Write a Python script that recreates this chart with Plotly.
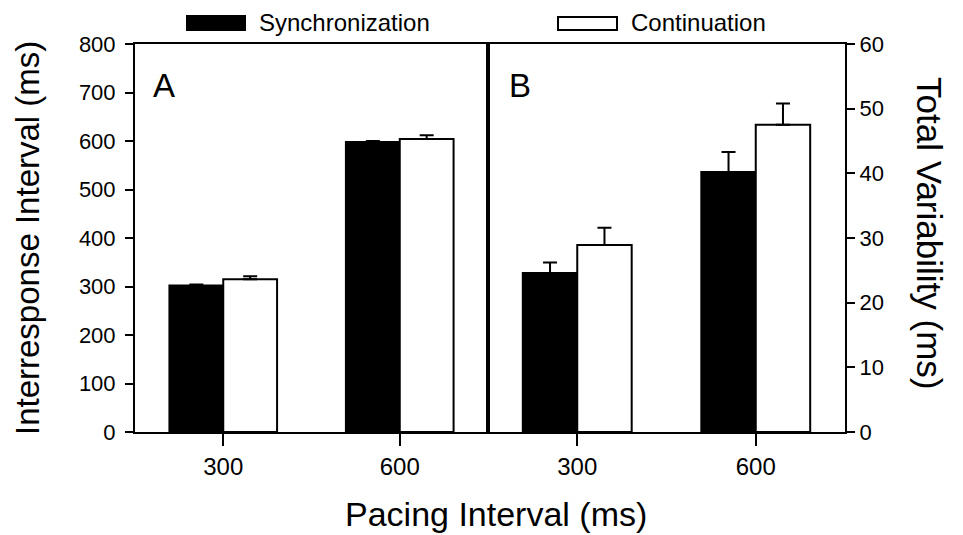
import plotly.graph_objects as go

# ---- data ----
categories = ["300", "600"]
# Panel A: interresponse interval (ms)
ira_sync = [302, 598]
ira_sync_err = [2, 2]
ira_cont = [315, 604]
ira_cont_err = [6, 8]
# Panel B: total variability (ms)
tv_sync = [24.6, 40.2]
tv_sync_err = [1.6, 3.1]
tv_cont = [28.9, 47.5]
tv_cont_err = [2.7, 3.3]
left_ticks = list(range(0, 801, 100))
right_ticks = list(range(0, 61, 10))

FONT = "Liberation Sans, Arial, Helvetica, sans-serif"

fig = go.Figure()

def add_bars(vals, errs, fill, xa, ya, name):
    fig.add_trace(go.Bar(
        x=categories, y=vals, name=name, xaxis=xa, yaxis=ya,
        marker=dict(color=fill, line=dict(color="black", width=2)),
        error_y=dict(type="data", symmetric=False, array=errs,
                     arrayminus=[0] * len(errs), color="black",
                     thickness=2, width=7),
        showlegend=False,
    ))

add_bars(ira_sync, ira_sync_err, "black", "x", "y", "Synchronization")
add_bars(ira_cont, ira_cont_err, "white", "x", "y", "Continuation")
add_bars(tv_sync, tv_sync_err, "black", "x2", "y2", "Synchronization")
add_bars(tv_cont, tv_cont_err, "white", "x2", "y2", "Continuation")

# page coordinates (browser body has an 8px margin)
OFF = 8
PW, PH = 963, 535
L, R, T, B = 135, 845, 44, 432
W, H = PW - OFF, PH - OFF
d = (488 - L) / (R - L)

axis_common = dict(showline=True, linecolor="black", linewidth=2, mirror=True,
                   showgrid=False, zeroline=False, ticks="outside",
                   tickcolor="black", tickwidth=2)

fig.update_layout(
    width=W, height=H,
    margin=dict(l=L - OFF, r=PW - R, t=T - OFF, b=PH - B),
    paper_bgcolor="white", plot_bgcolor="white",
    font=dict(family=FONT, color="black"),
    barmode="group", bargap=0.39, bargroupgap=0,
    xaxis=dict(domain=[0, d], type="category", range=[-0.5, 1.5], anchor="y",
               ticklen=12, tickfont=dict(size=24), **axis_common),
    xaxis2=dict(domain=[d, 1], type="category", range=[-0.5, 1.5], anchor="y2",
                ticklen=12, tickfont=dict(size=24), **axis_common),
    yaxis=dict(range=[0, 800], anchor="x", side="left", tickvals=left_ticks,
               ticklen=8, tickfont=dict(size=22), ticklabelstandoff=5,
               **axis_common),
    yaxis2=dict(range=[0, 60], anchor="x2", side="right", tickvals=right_ticks,
                ticklen=8, tickfont=dict(size=22), **axis_common),
)

def px(x):
    return (x - L) / (R - L)

def py(y):
    return (B - y) / (B - T)

ann = []
ann.append(dict(text="A", x=px(151), y=py(86), xref="paper", yref="paper",
                xanchor="left", yanchor="middle", showarrow=False,
                font=dict(size=33)))
ann.append(dict(text="B", x=px(507), y=py(86), xref="paper", yref="paper",
                xanchor="left", yanchor="middle", showarrow=False,
                font=dict(size=33)))
ann.append(dict(text="Interresponse Interval (ms)", x=px(27), y=py(238),
                xref="paper", yref="paper", xanchor="center", yanchor="middle",
                textangle=-90, showarrow=False, font=dict(size=33)))
ann.append(dict(text="Total Variability (ms)", x=px(930), y=py(233),
                xref="paper", yref="paper", xanchor="center", yanchor="middle",
                textangle=90, showarrow=False, font=dict(size=35)))
ann.append(dict(text="Pacing Interval (ms)", x=px(496), y=py(514),
                xref="paper", yref="paper", xanchor="center", yanchor="middle",
                showarrow=False, font=dict(size=34)))
ann.append(dict(text="Synchronization", x=px(257), y=py(23), xref="paper",
                yref="paper", xanchor="left", yanchor="middle",
                showarrow=False, font=dict(size=24)))
ann.append(dict(text="Continuation", x=px(629), y=py(23), xref="paper",
                yref="paper", xanchor="left", yanchor="middle",
                showarrow=False, font=dict(size=24)))
fig.update_layout(annotations=ann)

shapes = [
    dict(type="rect", xref="paper", yref="paper", x0=px(187), x1=px(245),
         y0=py(30), y1=py(16), fillcolor="black", line=dict(color="black", width=2)),
    dict(type="rect", xref="paper", yref="paper", x0=px(558), x1=px(617),
         y0=py(30), y1=py(17), fillcolor="white", line=dict(color="black", width=2)),
]
fig.update_layout(shapes=shapes)

fig.write_html("out.html")
